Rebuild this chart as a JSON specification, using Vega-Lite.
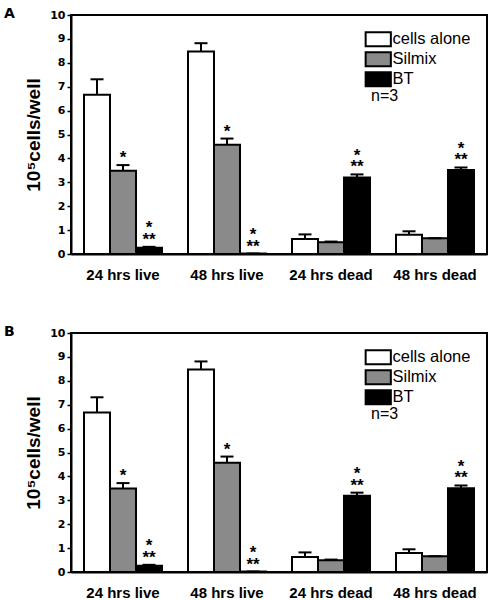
{
  "$schema": "https://vega.github.io/schema/vega-lite/v6.json",
  "padding": {"left": 3, "top": 6, "right": 2, "bottom": 0},
  "background": "white",
  "config": {
    "font": "Liberation Sans",
    "view": {"stroke": "black", "strokeWidth": 2},
    "axis": {"grid": false, "domainColor": "black", "domainWidth": 2, "labelColor": "black", "titleColor": "black"},
    "axisY": {"labelOverlap": false, "tickSize": 4, "tickWidth": 1.5, "tickColor": "black", "labelFont": "DejaVu Sans", "labelFontWeight": "bold", "labelFontSize": 11, "labelPadding": 2, "titleFontSize": 19, "titleFontWeight": "bold", "titlePadding": 6}
  },
  "bounds": "flush",
  "spacing": 79,
  "resolve": {"scale": {"fill": "independent"}, "legend": {"fill": "independent"}},
  "datasets": {
    "bars": [
      {"panel": "A", "group": "24 hrs live", "treatment": "cells alone", "value": 6.66, "upper": 7.31, "sigTop": "", "sigBottom": ""},
      {"panel": "A", "group": "24 hrs live", "treatment": "Silmix", "value": 3.48, "upper": 3.72, "sigTop": "", "sigBottom": "*"},
      {"panel": "A", "group": "24 hrs live", "treatment": "BT", "value": 0.26, "upper": 0.30, "sigTop": "*", "sigBottom": "**"},
      {"panel": "A", "group": "48 hrs live", "treatment": "cells alone", "value": 8.47, "upper": 8.82, "sigTop": "", "sigBottom": ""},
      {"panel": "A", "group": "48 hrs live", "treatment": "Silmix", "value": 4.57, "upper": 4.83, "sigTop": "", "sigBottom": "*"},
      {"panel": "A", "group": "48 hrs live", "treatment": "BT", "value": 0.02, "upper": 0.02, "sigTop": "*", "sigBottom": "**"},
      {"panel": "A", "group": "24 hrs dead", "treatment": "cells alone", "value": 0.63, "upper": 0.82, "sigTop": "", "sigBottom": ""},
      {"panel": "A", "group": "24 hrs dead", "treatment": "Silmix", "value": 0.49, "upper": 0.52, "sigTop": "", "sigBottom": ""},
      {"panel": "A", "group": "24 hrs dead", "treatment": "BT", "value": 3.20, "upper": 3.33, "sigTop": "*", "sigBottom": "**"},
      {"panel": "A", "group": "48 hrs dead", "treatment": "cells alone", "value": 0.81, "upper": 0.95, "sigTop": "", "sigBottom": ""},
      {"panel": "A", "group": "48 hrs dead", "treatment": "Silmix", "value": 0.66, "upper": 0.66, "sigTop": "", "sigBottom": ""},
      {"panel": "A", "group": "48 hrs dead", "treatment": "BT", "value": 3.51, "upper": 3.62, "sigTop": "*", "sigBottom": "**"},
      {"panel": "B", "group": "24 hrs live", "treatment": "cells alone", "value": 6.67, "upper": 7.31, "sigTop": "", "sigBottom": ""},
      {"panel": "B", "group": "24 hrs live", "treatment": "Silmix", "value": 3.49, "upper": 3.72, "sigTop": "", "sigBottom": "*"},
      {"panel": "B", "group": "24 hrs live", "treatment": "BT", "value": 0.26, "upper": 0.30, "sigTop": "*", "sigBottom": "**"},
      {"panel": "B", "group": "48 hrs live", "treatment": "cells alone", "value": 8.47, "upper": 8.81, "sigTop": "", "sigBottom": ""},
      {"panel": "B", "group": "48 hrs live", "treatment": "Silmix", "value": 4.57, "upper": 4.83, "sigTop": "", "sigBottom": "*"},
      {"panel": "B", "group": "48 hrs live", "treatment": "BT", "value": 0.02, "upper": 0.02, "sigTop": "*", "sigBottom": "**"},
      {"panel": "B", "group": "24 hrs dead", "treatment": "cells alone", "value": 0.63, "upper": 0.82, "sigTop": "", "sigBottom": ""},
      {"panel": "B", "group": "24 hrs dead", "treatment": "Silmix", "value": 0.49, "upper": 0.52, "sigTop": "", "sigBottom": ""},
      {"panel": "B", "group": "24 hrs dead", "treatment": "BT", "value": 3.19, "upper": 3.32, "sigTop": "*", "sigBottom": "**"},
      {"panel": "B", "group": "48 hrs dead", "treatment": "cells alone", "value": 0.80, "upper": 0.95, "sigTop": "", "sigBottom": ""},
      {"panel": "B", "group": "48 hrs dead", "treatment": "Silmix", "value": 0.66, "upper": 0.66, "sigTop": "", "sigBottom": ""},
      {"panel": "B", "group": "48 hrs dead", "treatment": "BT", "value": 3.50, "upper": 3.62, "sigTop": "*", "sigBottom": "**"}
    ],
    "notes": [
      {"panel": "A", "note": "n=3", "group": "48 hrs dead", "treatment": "cells alone", "y": 6.4},
      {"panel": "B", "note": "n=3", "group": "48 hrs dead", "treatment": "cells alone", "y": 6.4}
    ]
  },
  "vconcat": [
    {
      "title": {"text": "A", "anchor": "start", "frame": "group", "dx": -67, "offset": -12, "font": "DejaVu Sans", "fontSize": 14, "fontWeight": "bold", "color": "black"},
      "width": 416,
      "height": 239,
      "encoding": {
        "x": {"field": "group", "type": "nominal", "sort": ["24 hrs live", "48 hrs live", "24 hrs dead", "48 hrs dead"], "scale": {"paddingInner": 0.25, "paddingOuter": 0.125},
          "axis": {"title": null, "labelAngle": 0, "ticks": false, "labelPadding": 13.5, "labelFontSize": 15, "labelFontWeight": "bold"}},
        "xOffset": {"field": "treatment", "type": "nominal", "sort": ["cells alone", "Silmix", "BT"], "scale": {"paddingInner": 0, "paddingOuter": 0}}
      },
      "layer": [
        {
          "data": {"name": "bars"},
          "transform": [{"filter": "datum.panel === 'A'"}],
          "layer": [
            {
              "mark": {"type": "bar", "stroke": "black", "strokeWidth": 2},
              "encoding": {
                "y": {"field": "value", "type": "quantitative", "scale": {"domain": [0, 10], "nice": false}, "title": "10⁵cells/well",
                  "axis": {"values": [0, 1, 2, 3, 4, 5, 6, 7, 8, 9, 10], "labelOverlap": false}},
                "fill": {"field": "treatment", "type": "nominal", "scale": {"domain": ["cells alone", "Silmix", "BT"], "range": ["white", "#8a8a8a", "black"]},
                  "legend": {"title": null, "orient": "top-right", "offset": 16, "labelFontSize": 16.5, "labelColor": "black", "labelOffset": 6, "symbolType": "M-1.8,-1H1.8V1H-1.8Z", "symbolSize": 196, "symbolStrokeColor": "black", "symbolStrokeWidth": 2, "rowPadding": -12, "padding": 0}}
              }
            },
            {
              "mark": {"type": "rule", "stroke": "black", "strokeWidth": 2},
              "encoding": {"y": {"field": "value", "type": "quantitative", "title": "10⁵cells/well", "axis": {"values": [0, 1, 2, 3, 4, 5, 6, 7, 8, 9, 10], "labelOverlap": false}}, "y2": {"field": "upper"}}
            },
            {
              "mark": {"type": "tick", "color": "black", "size": 13, "thickness": 2, "opacity": 1},
              "encoding": {"y": {"field": "upper", "type": "quantitative", "title": "10⁵cells/well", "axis": {"values": [0, 1, 2, 3, 4, 5, 6, 7, 8, 9, 10], "labelOverlap": false}}}
            },
            {
              "mark": {"type": "text", "baseline": "bottom", "dy": 2, "fontSize": 17, "fontWeight": "bold", "color": "black"},
              "encoding": {"y": {"field": "upper", "type": "quantitative", "title": "10⁵cells/well", "axis": {"values": [0, 1, 2, 3, 4, 5, 6, 7, 8, 9, 10], "labelOverlap": false}}, "text": {"field": "sigBottom"}}
            },
            {
              "mark": {"type": "text", "baseline": "bottom", "dy": -9.5, "fontSize": 17, "fontWeight": "bold", "color": "black"},
              "encoding": {"y": {"field": "upper", "type": "quantitative", "title": "10⁵cells/well", "axis": {"values": [0, 1, 2, 3, 4, 5, 6, 7, 8, 9, 10], "labelOverlap": false}}, "text": {"field": "sigTop"}}
            }
          ]
        },
        {
          "data": {"name": "notes"},
          "transform": [{"filter": "datum.panel === 'A'"}],
          "mark": {"type": "text", "align": "left", "baseline": "alphabetic", "dx": -38, "fontSize": 16, "color": "black"},
          "encoding": {
            "y": {"field": "y", "type": "quantitative", "title": "10⁵cells/well", "axis": {"values": [0, 1, 2, 3, 4, 5, 6, 7, 8, 9, 10], "labelOverlap": false}},
            "text": {"field": "note"}
          }
        }
      ]
    },
    {
      "title": {"text": "B", "anchor": "start", "frame": "group", "dx": -67, "offset": -12, "font": "DejaVu Sans", "fontSize": 14, "fontWeight": "bold", "color": "black"},
      "width": 416,
      "height": 239,
      "encoding": {
        "x": {"field": "group", "type": "nominal", "sort": ["24 hrs live", "48 hrs live", "24 hrs dead", "48 hrs dead"], "scale": {"paddingInner": 0.25, "paddingOuter": 0.125},
          "axis": {"title": null, "labelAngle": 0, "ticks": false, "labelPadding": 13.5, "labelFontSize": 15, "labelFontWeight": "bold"}},
        "xOffset": {"field": "treatment", "type": "nominal", "sort": ["cells alone", "Silmix", "BT"], "scale": {"paddingInner": 0, "paddingOuter": 0}}
      },
      "layer": [
        {
          "data": {"name": "bars"},
          "transform": [{"filter": "datum.panel === 'B'"}],
          "layer": [
            {
              "mark": {"type": "bar", "stroke": "black", "strokeWidth": 2},
              "encoding": {
                "y": {"field": "value", "type": "quantitative", "scale": {"domain": [0, 10], "nice": false}, "title": "10⁵cells/well",
                  "axis": {"values": [0, 1, 2, 3, 4, 5, 6, 7, 8, 9, 10], "labelOverlap": false}},
                "fill": {"field": "treatment", "type": "nominal", "scale": {"domain": ["cells alone", "Silmix", "BT"], "range": ["white", "#8a8a8a", "black"]},
                  "legend": {"title": null, "orient": "top-right", "offset": 16, "labelFontSize": 16.5, "labelColor": "black", "labelOffset": 6, "symbolType": "M-1.8,-1H1.8V1H-1.8Z", "symbolSize": 196, "symbolStrokeColor": "black", "symbolStrokeWidth": 2, "rowPadding": -12, "padding": 0}}
              }
            },
            {
              "mark": {"type": "rule", "stroke": "black", "strokeWidth": 2},
              "encoding": {"y": {"field": "value", "type": "quantitative", "title": "10⁵cells/well", "axis": {"values": [0, 1, 2, 3, 4, 5, 6, 7, 8, 9, 10], "labelOverlap": false}}, "y2": {"field": "upper"}}
            },
            {
              "mark": {"type": "tick", "color": "black", "size": 13, "thickness": 2, "opacity": 1},
              "encoding": {"y": {"field": "upper", "type": "quantitative", "title": "10⁵cells/well", "axis": {"values": [0, 1, 2, 3, 4, 5, 6, 7, 8, 9, 10], "labelOverlap": false}}}
            },
            {
              "mark": {"type": "text", "baseline": "bottom", "dy": 2, "fontSize": 17, "fontWeight": "bold", "color": "black"},
              "encoding": {"y": {"field": "upper", "type": "quantitative", "title": "10⁵cells/well", "axis": {"values": [0, 1, 2, 3, 4, 5, 6, 7, 8, 9, 10], "labelOverlap": false}}, "text": {"field": "sigBottom"}}
            },
            {
              "mark": {"type": "text", "baseline": "bottom", "dy": -9.5, "fontSize": 17, "fontWeight": "bold", "color": "black"},
              "encoding": {"y": {"field": "upper", "type": "quantitative", "title": "10⁵cells/well", "axis": {"values": [0, 1, 2, 3, 4, 5, 6, 7, 8, 9, 10], "labelOverlap": false}}, "text": {"field": "sigTop"}}
            }
          ]
        },
        {
          "data": {"name": "notes"},
          "transform": [{"filter": "datum.panel === 'B'"}],
          "mark": {"type": "text", "align": "left", "baseline": "alphabetic", "dx": -38, "fontSize": 16, "color": "black"},
          "encoding": {
            "y": {"field": "y", "type": "quantitative", "title": "10⁵cells/well", "axis": {"values": [0, 1, 2, 3, 4, 5, 6, 7, 8, 9, 10], "labelOverlap": false}},
            "text": {"field": "note"}
          }
        }
      ]
    }
  ]
}
